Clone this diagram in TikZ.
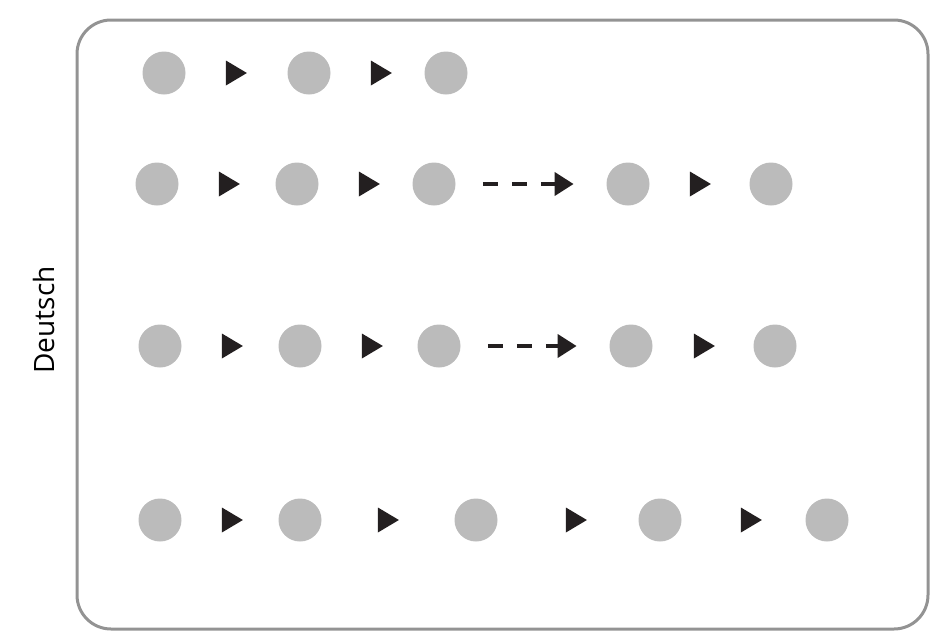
\documentclass[tikz,border=0pt]{standalone}
\usepackage{fontspec}
\setmainfont{Open Sans}
\usepackage{tikz}
\usetikzlibrary{shapes.geometric,arrows.meta}

\definecolor{dotgray}{HTML}{BBBBBB}
\definecolor{framegray}{HTML}{939393}
\definecolor{tipblack}{HTML}{231F20}

\begin{document}
\begin{tikzpicture}[x=0.5pt,y=-0.5pt,
	dot/.style={circle, fill=dotgray, inner sep=0pt, minimum size=21.5pt},
	tri/.style={isosceles triangle, isosceles triangle stretches, fill=tipblack, inner sep=0pt, minimum width=12.5pt, minimum height=10.5pt},
	jump/.style={tipblack, line width=2pt, dash pattern=on 7.5pt off 7pt, -{Triangle[length=9.5pt,width=11.5pt]}, shorten <=13.5pt, shorten >=16.25pt}]
			\useasboundingbox (0,0) rectangle (950,638);
			%%%	Rahmen
			\draw [framegray, line width=1.5pt, rounded corners=17pt] (77,20) rectangle (928,629);
			\node [rotate=90, font=\fontsize{14}{16}\selectfont] (lang) at (44,320) {Deutsch};
			%%%	Reihe 1
			\node [dot] (a1) at (164,73) {};
			\node [tri] (ta1) at (233,73) {};
			\node [dot] (a2) at (309,73) {};
			\node [tri] (ta2) at (378,73) {};
			\node [dot] (a3) at (446,73) {};
			%%%	Reihe 2
			\node [dot] (b1) at (157,184) {};
			\node [tri] (tb1) at (226,184) {};
			\node [dot] (b2) at (297,184) {};
			\node [tri] (tb2) at (366,184) {};
			\node [dot] (b3) at (434,184) {};
			\node [dot] (b4) at (628,184) {};
			\node [tri] (tb4) at (697,184) {};
			\node [dot] (b5) at (771,184) {};
			\draw [jump] (b3) -- (b4);
			%%%	Reihe 3
			\node [dot] (c1) at (160,346) {};
			\node [tri] (tc1) at (229,346) {};
			\node [dot] (c2) at (300,346) {};
			\node [tri] (tc2) at (369,346) {};
			\node [dot] (c3) at (439,346) {};
			\node [dot] (c4) at (631,346) {};
			\node [tri] (tc4) at (701,346) {};
			\node [dot] (c5) at (775,346) {};
			\draw [jump] (c3) -- (c4);
			%%%	Reihe 4
			\node [dot] (d1) at (160,520) {};
			\node [tri] (td1) at (229,520) {};
			\node [dot] (d2) at (300,520) {};
			\node [tri] (td2) at (385,520) {};
			\node [dot] (d3) at (476,520) {};
			\node [tri] (td3) at (573,520) {};
			\node [dot] (d4) at (660,520) {};
			\node [tri] (td4) at (748,520) {};
			\node [dot] (d5) at (827,520) {};
\end{tikzpicture}
\end{document}
